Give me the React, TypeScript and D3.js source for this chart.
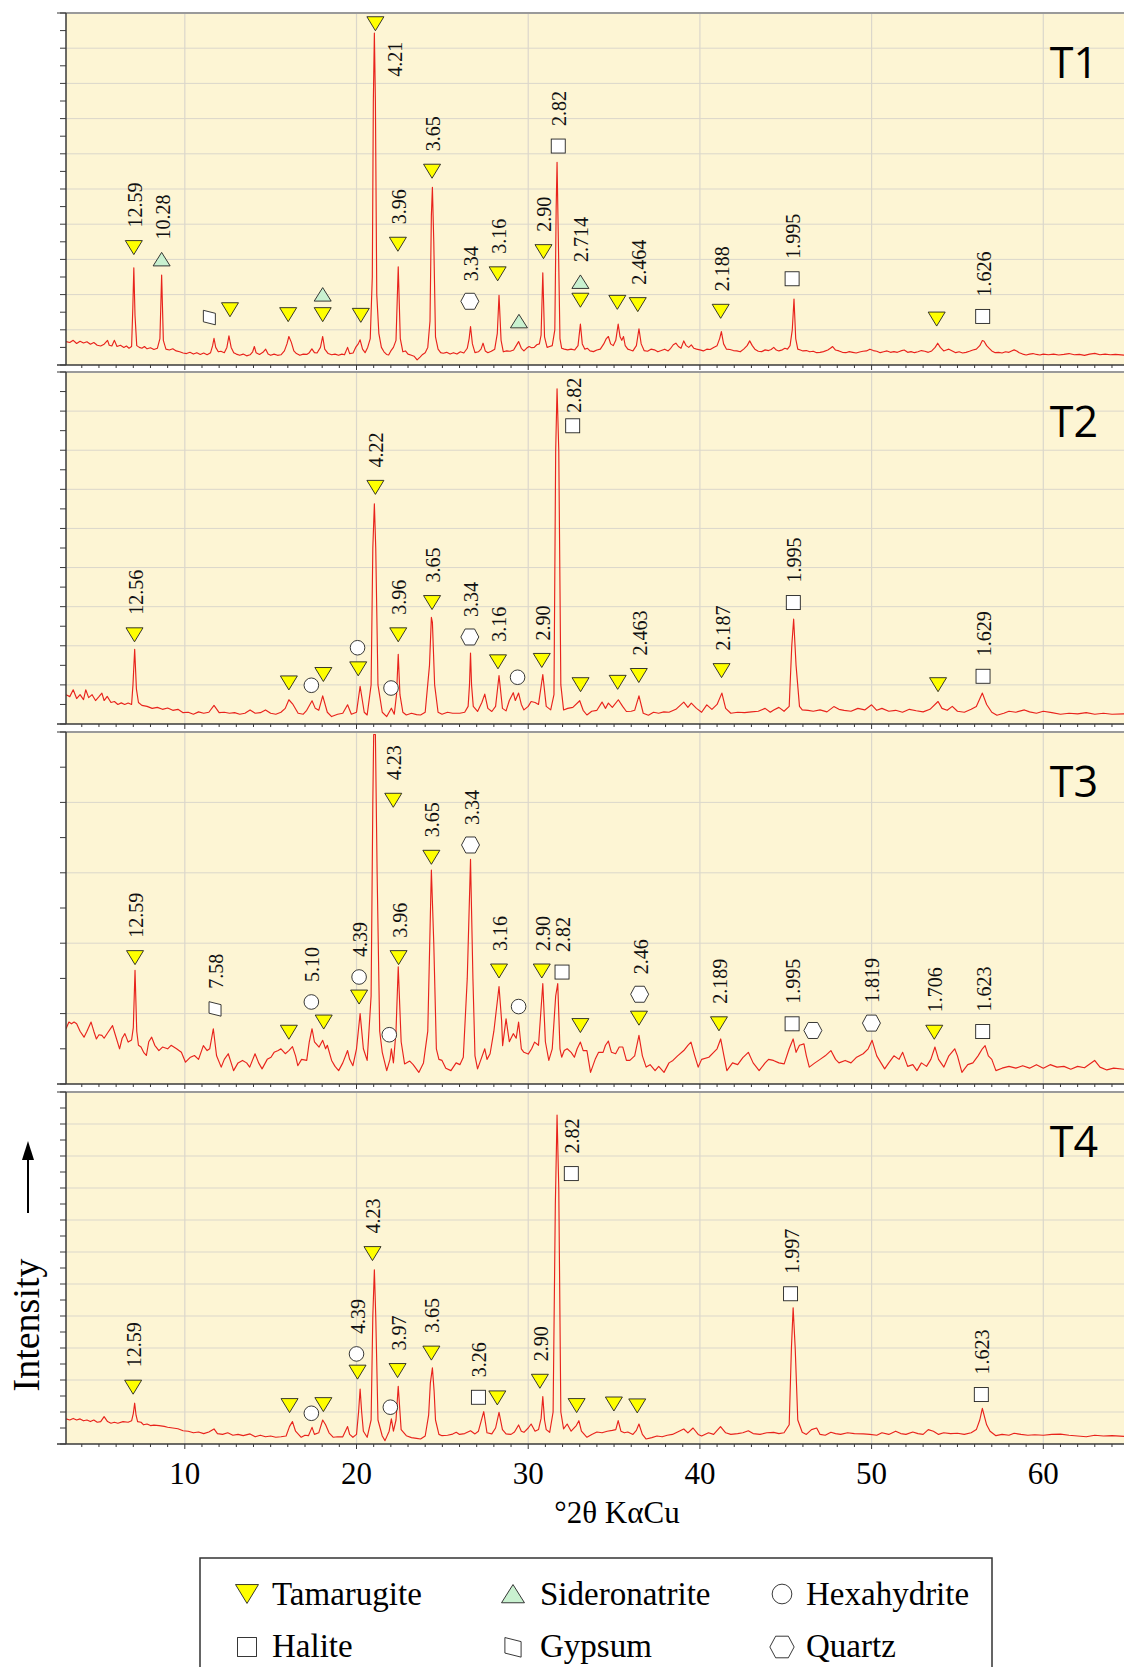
import React from 'react';
import * as d3 from 'd3';

type Pt = [number, number];
type Ann = [number, number, string, string, string?];

// ---------- Data (2θ in degrees, intensity in counts) ----------
const T1_TRACE: Pt[] = [[3.08,133],[3.3,128],[3.5,140],[3.7,122],[3.9,135],[4.1,125],[4.3,132],[4.5,118],[4.7,128],[4.9,112],[5.1,108],[5.3,118],[5.5,140],[5.6,112],[5.75,108],[5.9,140],[6.05,105],[6.25,112],[6.45,100],[6.6,108],[6.75,95],[6.9,105],[6.97,320],[7.03,552],[7.1,280],[7.2,110],[7.35,100],[7.5,95],[7.65,105],[7.8,92],[8.0,98],[8.2,88],[8.4,95],[8.55,150],[8.65,511],[8.75,140],[8.9,90],[9.1,85],[9.3,92],[9.5,80],[9.7,75],[9.9,68],[10.1,65],[10.3,72],[10.5,62],[10.7,70],[10.9,60],[11.1,68],[11.3,58],[11.5,70],[11.62,110],[11.7,152],[11.8,100],[11.95,75],[12.1,78],[12.3,70],[12.45,100],[12.57,166],[12.7,100],[12.85,70],[13.0,62],[13.2,55],[13.4,62],[13.6,52],[13.8,58],[13.95,75],[14.05,105],[14.15,70],[14.35,60],[14.55,72],[14.71,90],[14.85,62],[15.0,55],[15.2,62],[15.4,55],[15.6,58],[15.8,80],[15.95,120],[16.06,162],[16.2,130],[16.35,80],[16.5,65],[16.7,55],[16.9,62],[17.1,60],[17.25,70],[17.4,92],[17.55,70],[17.7,68],[17.9,100],[18.03,162],[18.15,90],[18.35,65],[18.55,58],[18.75,62],[18.95,55],[19.15,62],[19.3,58],[19.48,100],[19.6,65],[19.8,68],[19.95,100],[20.1,120],[20.21,143],[20.35,90],[20.5,70],[20.65,100],[20.8,150],[20.92,500],[20.98,1500],[21.04,1886],[21.1,1500],[21.18,400],[21.3,180],[21.45,100],[21.6,75],[21.75,60],[21.87,57],[22.0,80],[22.15,100],[22.3,140],[22.43,558],[22.55,150],[22.7,75],[22.85,80],[23.0,62],[23.2,55],[23.35,50],[23.53,29],[23.7,45],[23.85,60],[24.0,70],[24.15,100],[24.28,250],[24.36,850],[24.42,1010],[24.5,700],[24.6,160],[24.75,90],[24.9,70],[25.05,67],[25.25,72],[25.45,62],[25.65,70],[25.85,62],[26.05,75],[26.25,68],[26.45,95],[26.56,150],[26.64,219],[26.75,120],[26.9,70],[27.1,75],[27.25,90],[27.37,124],[27.5,80],[27.65,70],[27.85,78],[28.05,90],[28.2,180],[28.3,396],[28.42,140],[28.55,75],[28.75,80],[28.95,78],[29.15,85],[29.3,110],[29.44,133],[29.6,95],[29.75,80],[29.9,95],[30.05,105],[30.2,98],[30.35,100],[30.5,115],[30.65,120],[30.75,170],[30.85,524],[30.95,160],[31.1,100],[31.25,105],[31.4,110],[31.55,200],[31.63,900],[31.68,1152],[31.74,800],[31.85,150],[31.95,95],[32.1,90],[32.3,86],[32.5,90],[32.7,85],[32.9,110],[33.04,232],[33.15,120],[33.3,90],[33.45,95],[33.6,80],[33.8,76],[34.0,85],[34.2,90],[34.4,120],[34.55,150],[34.67,162],[34.8,120],[34.95,110],[35.1,140],[35.24,232],[35.35,160],[35.45,140],[35.55,162],[35.65,110],[35.8,90],[35.95,85],[36.1,80],[36.3,110],[36.45,206],[36.58,120],[36.75,82],[36.95,78],[37.15,90],[37.35,86],[37.55,75],[37.75,82],[37.95,90],[38.15,80],[38.3,95],[38.45,115],[38.6,124],[38.75,105],[38.9,95],[39.06,137],[39.2,110],[39.35,100],[39.5,114],[39.65,95],[39.8,90],[40.0,86],[40.2,80],[40.4,90],[40.6,88],[40.8,100],[41.0,110],[41.15,150],[41.25,190],[41.38,120],[41.55,90],[41.75,88],[41.95,82],[42.15,80],[42.35,75],[42.55,90],[42.75,110],[42.9,137],[43.05,110],[43.2,90],[43.4,78],[43.6,76],[43.8,86],[44.0,82],[44.15,88],[44.3,100],[44.45,85],[44.6,80],[44.8,86],[44.95,95],[45.1,90],[45.25,110],[45.38,200],[45.48,375],[45.58,150],[45.7,90],[45.85,85],[46.0,80],[46.2,82],[46.4,75],[46.6,78],[46.8,70],[47.0,72],[47.2,76],[47.45,85],[47.6,95],[47.73,105],[47.9,85],[48.1,80],[48.3,72],[48.5,70],[48.7,76],[48.9,72],[49.1,68],[49.3,74],[49.5,78],[49.7,80],[49.9,90],[50.1,82],[50.3,78],[50.5,70],[50.7,75],[50.9,80],[51.1,72],[51.3,76],[51.5,72],[51.7,80],[51.9,85],[52.1,72],[52.3,76],[52.5,70],[52.7,75],[52.9,82],[53.1,78],[53.3,72],[53.5,80],[53.7,100],[53.85,124],[54.0,100],[54.2,80],[54.35,85],[54.5,90],[54.7,80],[54.9,70],[55.1,75],[55.3,68],[55.5,72],[55.7,78],[55.9,85],[56.1,90],[56.3,110],[56.45,139],[56.55,135],[56.7,110],[56.85,95],[57.0,80],[57.2,70],[57.4,72],[57.6,68],[57.8,75],[58.0,72],[58.15,80],[58.3,86],[58.45,80],[58.6,70],[58.8,62],[59.0,57],[59.2,62],[59.4,65],[59.6,60],[59.8,57],[60.0,62],[60.3,58],[60.6,62],[60.9,57],[61.2,60],[61.5,65],[61.8,58],[62.1,60],[62.4,55],[62.7,62],[63.0,66],[63.3,58],[63.6,62],[63.9,58],[64.2,60],[64.7,56]];

const T2_TRACE: Pt[] = [[3.08,150],[3.3,140],[3.5,175],[3.7,130],[3.9,150],[4.1,125],[4.23,175],[4.4,135],[4.6,150],[4.8,120],[5.0,140],[5.17,158],[5.3,120],[5.48,141],[5.7,110],[5.9,115],[6.1,100],[6.3,108],[6.5,100],[6.7,107],[6.9,100],[6.98,200],[7.08,382],[7.18,180],[7.3,110],[7.5,95],[7.8,90],[8.1,80],[8.4,85],[8.7,75],[9.0,82],[9.3,70],[9.6,75],[9.9,58],[10.2,60],[10.5,50],[10.8,62],[11.1,55],[11.4,60],[11.7,95],[12.0,58],[12.3,60],[12.6,55],[12.9,58],[13.2,50],[13.5,55],[13.8,72],[14.1,55],[14.4,58],[14.7,72],[15.0,55],[15.3,50],[15.6,60],[15.85,80],[16.06,124],[16.3,100],[16.6,55],[16.9,50],[17.1,70],[17.41,119],[17.6,80],[17.8,70],[18.03,144],[18.3,60],[18.55,38],[18.9,50],[19.2,55],[19.48,98],[19.7,50],[20.0,60],[20.21,193],[20.45,60],[20.62,46],[20.85,200],[20.95,900],[21.04,1126],[21.12,900],[21.25,200],[21.5,60],[21.76,38],[22.03,81],[22.2,50],[22.33,150],[22.43,356],[22.53,150],[22.7,60],[22.9,46],[23.2,55],[23.5,48],[23.73,46],[24.0,60],[24.25,300],[24.36,545],[24.42,520],[24.55,200],[24.75,60],[24.98,50],[25.3,60],[25.6,55],[26.02,55],[26.3,60],[26.5,90],[26.58,200],[26.64,363],[26.7,200],[26.8,90],[27.05,64],[27.3,110],[27.47,153],[27.65,80],[27.88,64],[28.1,90],[28.3,248],[28.5,80],[28.71,67],[28.9,120],[29.13,160],[29.25,120],[29.44,158],[29.6,100],[29.75,72],[30.0,90],[30.17,115],[30.4,110],[30.6,100],[30.85,253],[31.05,90],[31.31,72],[31.5,150],[31.6,1400],[31.68,1714],[31.78,1400],[31.9,200],[32.06,72],[32.3,80],[32.6,85],[33.0,119],[33.2,70],[33.42,46],[33.7,65],[34.0,70],[34.3,112],[34.5,80],[34.67,107],[34.9,85],[35.25,124],[35.5,90],[35.72,64],[36.0,65],[36.2,70],[36.45,144],[36.7,55],[37.0,45],[37.3,60],[37.6,55],[37.9,62],[38.2,60],[38.6,75],[39.06,112],[39.3,85],[39.5,107],[39.8,80],[40.1,60],[40.4,98],[40.7,75],[41.0,100],[41.28,158],[41.5,80],[41.8,55],[42.2,60],[42.6,58],[43.0,62],[43.4,65],[43.8,80],[44.1,60],[44.3,72],[44.6,85],[44.9,65],[45.2,90],[45.35,400],[45.46,536],[45.6,300],[45.8,90],[45.96,72],[46.3,70],[46.6,65],[47.0,72],[47.4,62],[47.8,89],[48.1,75],[48.4,70],[48.8,65],[49.2,80],[49.6,72],[50.0,98],[50.3,70],[50.6,80],[51.0,65],[51.4,70],[51.8,60],[52.2,75],[52.6,68],[53.0,62],[53.4,75],[53.87,115],[54.1,80],[54.4,70],[54.7,90],[55.0,65],[55.4,60],[55.8,75],[56.1,90],[56.45,158],[56.7,100],[57.0,60],[57.3,45],[57.7,55],[58.0,65],[58.4,60],[58.9,72],[59.2,62],[59.6,55],[60.0,65],[60.5,58],[61.0,50],[61.5,55],[62.0,52],[62.5,58],[63.0,50],[63.5,55],[64.0,50],[64.7,52]];

const T3_TRACE: Pt[] = [[3.08,157],[3.25,176],[3.4,171],[3.55,176],[3.7,171],[3.9,150],[4.13,133],[4.3,150],[4.54,176],[4.7,150],[4.85,128],[5.0,140],[5.17,138],[5.3,130],[5.5,145],[5.79,166],[5.95,140],[6.2,100],[6.35,130],[6.51,143],[6.7,119],[6.9,125],[7.0,160],[7.1,323],[7.2,150],[7.3,110],[7.45,105],[7.6,90],[7.76,81],[7.9,120],[8.07,133],[8.25,110],[8.49,95],[8.7,105],[9.0,100],[9.2,110],[9.52,100],[9.8,90],[10.04,62],[10.3,75],[10.56,81],[10.8,70],[11.08,109],[11.3,95],[11.45,100],[11.66,157],[11.85,80],[12.12,48],[12.3,70],[12.53,86],[12.7,60],[12.84,38],[13.1,60],[13.36,67],[13.6,60],[13.78,48],[14.09,86],[14.3,60],[14.5,43],[14.8,70],[15.02,76],[15.2,90],[15.44,95],[15.6,100],[15.85,86],[16.06,95],[16.27,106],[16.45,80],[16.58,52],[16.8,70],[17.1,67],[17.25,120],[17.41,157],[17.55,120],[17.82,105],[18.03,124],[18.2,100],[18.3,110],[18.55,67],[18.75,50],[18.96,38],[19.2,60],[19.48,95],[19.6,70],[19.79,52],[20.0,100],[20.21,200],[20.4,100],[20.62,67],[20.85,250],[20.95,800],[21.0,993],[21.1,993],[21.2,600],[21.35,150],[21.5,90],[21.76,38],[21.95,70],[22.03,100],[22.15,60],[22.3,150],[22.43,333],[22.6,120],[22.8,57],[23.1,65],[23.3,55],[23.63,33],[23.9,60],[24.15,150],[24.36,608],[24.5,400],[24.65,100],[24.8,70],[24.98,67],[25.2,45],[25.5,38],[25.8,60],[26.02,55],[26.22,76],[26.45,300],[26.64,638],[26.78,300],[26.9,80],[27.05,43],[27.25,70],[27.47,100],[27.6,70],[27.78,86],[28.0,150],[28.3,277],[28.45,180],[28.51,109],[28.71,185],[28.9,120],[29.13,143],[29.3,130],[29.44,176],[29.6,100],[29.75,90],[30.0,85],[30.2,100],[30.37,119],[30.6,110],[30.85,285],[31.0,120],[31.2,67],[31.4,100],[31.6,250],[31.72,285],[31.85,100],[31.95,76],[32.1,95],[32.27,100],[32.5,90],[32.69,76],[32.85,100],[33.04,119],[33.2,95],[33.42,95],[33.63,33],[33.9,70],[34.1,90],[34.36,90],[34.5,110],[34.67,122],[34.85,90],[35.09,86],[35.3,105],[35.51,105],[35.72,67],[35.92,67],[36.2,80],[36.45,138],[36.65,80],[36.87,48],[37.1,55],[37.39,38],[37.6,50],[37.91,33],[38.2,60],[38.43,67],[38.7,80],[39.06,95],[39.3,110],[39.48,119],[39.7,80],[39.9,48],[40.1,70],[40.52,76],[40.8,90],[41.0,100],[41.21,128],[41.4,80],[41.57,38],[41.9,60],[42.2,55],[42.5,75],[42.82,90],[43.1,60],[43.45,38],[43.8,60],[44.0,70],[44.28,67],[44.6,60],[44.91,57],[45.2,100],[45.43,128],[45.6,90],[45.8,110],[46.06,114],[46.2,80],[46.37,48],[46.7,60],[47.0,70],[47.3,80],[47.63,95],[47.9,70],[48.1,60],[48.46,67],[48.8,60],[49.1,75],[49.51,86],[49.8,100],[50.03,124],[50.3,80],[50.76,43],[51.0,60],[51.3,80],[51.6,70],[51.81,90],[52.1,50],[52.4,55],[52.64,38],[52.9,60],[53.2,50],[53.45,70],[53.69,105],[53.9,70],[54.21,48],[54.5,80],[54.84,100],[55.0,80],[55.26,33],[55.6,55],[55.9,60],[56.2,80],[56.45,100],[56.61,109],[56.8,80],[57.0,70],[57.24,38],[57.6,45],[58.0,50],[58.4,45],[58.8,52],[59.2,45],[59.6,55],[60.0,45],[60.4,55],[60.8,48],[61.2,50],[61.6,42],[62.0,50],[62.4,46],[62.99,67],[63.3,48],[63.7,40],[64.1,45],[64.7,42]];

const T4_TRACE: Pt[] = [[3.08,157],[3.3,150],[3.5,160],[3.7,150],[3.9,157],[4.1,145],[4.3,150],[4.5,140],[4.7,150],[4.9,136],[5.1,140],[5.3,171],[5.5,140],[5.7,130],[5.9,136],[6.1,130],[6.4,140],[6.7,136],[6.9,145],[7.0,190],[7.08,255],[7.16,180],[7.25,140],[7.45,136],[7.6,120],[7.8,125],[8.0,115],[8.2,118],[8.5,115],[8.8,110],[9.0,105],[9.3,100],[9.6,95],[9.9,83],[10.2,80],[10.5,70],[10.8,75],[11.1,65],[11.4,75],[11.7,94],[11.9,65],[12.2,60],[12.5,70],[12.8,55],[13.1,60],[13.4,52],[13.8,63],[14.1,45],[14.4,55],[14.7,45],[15.0,50],[15.3,42],[15.6,45],[15.9,50],[16.1,110],[16.27,140],[16.45,80],[16.78,42],[17.0,55],[17.2,52],[17.41,104],[17.55,60],[17.8,70],[18.03,150],[18.2,120],[18.4,70],[18.65,42],[18.9,45],[19.2,45],[19.48,109],[19.6,60],[19.79,42],[20.0,60],[20.12,200],[20.21,344],[20.3,200],[20.4,80],[20.62,42],[20.85,150],[20.95,800],[21.04,1089],[21.12,800],[21.25,150],[21.5,50],[21.66,21],[21.9,80],[22.03,157],[22.15,80],[22.3,150],[22.43,361],[22.6,90],[22.9,52],[23.2,40],[23.5,35],[23.73,31],[24.0,50],[24.2,180],[24.3,380],[24.42,476],[24.52,330],[24.6,150],[24.8,60],[24.98,52],[25.3,55],[25.6,62],[25.81,73],[26.0,60],[26.3,65],[26.64,83],[26.9,63],[27.1,80],[27.41,202],[27.6,70],[27.88,63],[28.1,100],[28.3,198],[28.5,90],[28.71,63],[29.0,60],[29.2,75],[29.44,119],[29.6,80],[29.75,73],[30.0,100],[30.17,125],[30.4,80],[30.6,90],[30.75,160],[30.85,296],[30.95,150],[31.05,90],[31.25,73],[31.45,200],[31.58,1500],[31.68,2056],[31.78,1600],[31.9,200],[32.06,94],[32.27,125],[32.5,80],[32.8,115],[32.95,146],[33.1,80],[33.42,42],[33.7,60],[34.0,75],[34.3,70],[34.6,80],[34.9,85],[35.1,90],[35.24,146],[35.4,80],[35.6,70],[35.8,75],[36.1,60],[36.3,85],[36.45,125],[36.65,60],[36.87,31],[37.2,40],[37.5,50],[37.8,45],[38.1,55],[38.4,60],[38.7,75],[39.06,94],[39.3,70],[39.6,100],[39.9,60],[40.1,50],[40.5,70],[40.8,60],[41.2,109],[41.5,70],[41.8,60],[42.2,65],[42.5,70],[42.82,83],[43.1,65],[43.5,60],[43.9,70],[44.3,73],[44.6,65],[44.9,70],[45.2,120],[45.33,600],[45.43,851],[45.55,600],[45.7,150],[45.96,73],[46.2,60],[46.5,90],[46.8,100],[47.0,60],[47.3,55],[47.63,73],[47.9,65],[48.2,60],[48.6,70],[49.0,65],[49.51,63],[49.9,60],[50.3,55],[50.6,70],[51.0,60],[51.4,80],[51.7,65],[52.0,60],[52.4,75],[52.7,65],[53.0,60],[53.3,90],[53.6,80],[53.9,60],[54.2,70],[54.6,65],[55.0,67],[55.4,60],[55.8,70],[56.1,90],[56.3,150],[56.45,223],[56.6,160],[56.7,120],[56.9,80],[57.24,52],[57.6,60],[58.0,55],[58.3,67],[58.7,60],[59.1,55],[59.5,58],[60.0,55],[60.5,60],[61.0,62],[61.5,55],[62.0,50],[62.5,45],[63.0,55],[63.5,50],[64.0,52],[64.7,48]];

// Mineral markers: [2θ, intensity, mineral, d-spacing label, placement]
const T1_MARKS: Ann[] = [[7.03,667,'T','12.59'],[8.65,600,'S','10.28'],[11.43,271,'G',''],[12.63,314,'T',''],[16.02,286,'T',''],[18.03,286,'T',''],[18.03,400,'S',''],[20.25,282,'T',''],[21.1,1939,'T','4.21','right'],[22.41,686,'T','3.96'],[24.40,1101,'T','3.65'],[26.60,362,'Q','3.34'],[28.22,518,'T','3.16'],[29.46,248,'S',''],[30.89,644,'T','2.90'],[31.75,1244,'L','2.82'],[33.04,472,'S','2.714'],[33.04,368,'T',''],[35.19,356,'T',''],[36.38,343,'T','2.464'],[41.21,305,'T','2.188'],[45.37,490,'L','1.995'],[53.79,261,'T',''],[56.47,276,'L','1.626']];
const T2_MARKS: Ann[] = [[7.07,456,'T','12.56'],[16.06,210,'T',''],[17.37,198,'H',''],[18.07,253,'T',''],[20.10,282,'T',''],[20.06,390,'H',''],[21.10,1210,'T','4.22'],[22.01,184,'H',''],[22.43,456,'T','3.96'],[24.40,621,'T','3.65'],[26.60,445,'Q','3.34'],[28.24,318,'T','3.16'],[29.38,239,'H',''],[30.79,325,'T','2.90'],[32.59,1525,'L','2.82','tight'],[33.05,201,'T',''],[35.21,213,'T',''],[36.44,248,'T','2.463'],[41.26,273,'T','2.187'],[45.44,621,'L','1.995'],[53.87,201,'T',''],[56.49,244,'L','1.629']];
const T3_MARKS: Ann[] = [[7.10,359,'T','12.59'],[11.76,214,'G','7.58'],[16.06,147,'T',''],[17.37,233,'H','5.10'],[18.09,176,'T',''],[20.15,247,'T',''],[20.15,304,'H','4.39'],[21.91,140,'H',''],[22.14,806,'T','4.23'],[22.45,359,'T','3.96'],[24.36,644,'T','3.65'],[26.64,679,'Q','3.34'],[28.30,321,'T','3.16'],[29.44,220,'H',''],[30.79,321,'T','2.90'],[31.97,318,'L','2.82'],[33.04,166,'T',''],[36.45,187,'T',''],[36.49,255,'Q','2.46'],[41.11,171,'T','2.189'],[45.37,171,'L','1.995'],[46.58,152,'Q',''],[49.99,173,'Q','1.819'],[53.65,147,'T','1.706'],[56.47,149,'L','1.623']];
const T4_MARKS: Ann[] = [[6.99,355,'T','12.59'],[16.10,240,'T',''],[17.37,192,'H',''],[18.07,246,'T',''],[20.06,449,'T',''],[20.0,563,'H','4.39'],[20.93,1190,'T','4.23'],[21.97,230,'H',''],[22.39,459,'T','3.97'],[24.36,568,'T','3.65'],[27.10,292,'L','3.26'],[28.20,288,'T',''],[30.68,392,'T','2.90'],[32.51,1690,'L','2.82'],[32.82,240,'T',''],[34.99,250,'T',''],[36.35,238,'T',''],[45.28,939,'L','1.997'],[56.39,309,'L','1.623']];

const PANEL_NAMES = ['T1', 'T2', 'T3', 'T4'];
const PANEL_MAX = [2000, 1800, 1000, 2200];
const X_TICKS = [10, 20, 30, 40, 50, 60];
const LEGEND_NAMES = ['Tamarugite', 'Sideronatrite', 'Hexahydrite', 'Halite', 'Gypsum', 'Quartz'];
const LEGEND_KINDS = ['T', 'S', 'H', 'L', 'G', 'Q'];

const TRACES = [T1_TRACE, T2_TRACE, T3_TRACE, T4_TRACE];
const MARKS = [T1_MARKS, T2_MARKS, T3_MARKS, T4_MARKS];

// ---------- Layout ----------
const W = 1124, H = 1667;
const LEFT = 66, RIGHT = 1124;
const PANEL_TOP = [13, 372, 732, 1092];
const PANEL_H = 352;
const SERIF = "'Liberation Serif', 'Times New Roman', serif";
const BG = '#fdf5d4';
const GRID = '#dbd7cb';
const AXIS = '#3a3a3a';

function Marker({ kind, cx, cy, s = 1 }: { kind: string; cx: number; cy: number; s?: number }) {
  const stroke = '#222';
  const sw = 0.9;
  const p = (pts: number[][]) => pts.map(([a, b]) => `${cx + a * s},${cy + b * s}`).join(' ');
  if (kind === 'T') return <polygon points={p([[-8.5, -7], [8.5, -7], [0, 7]])} fill="#ffff00" stroke={stroke} strokeWidth={sw} />;
  if (kind === 'S') return <polygon points={p([[-8.5, 6.5], [8.5, 6.5], [0, -7]])} fill="#c9f1d0" stroke={stroke} strokeWidth={sw} />;
  if (kind === 'H') return <circle cx={cx} cy={cy} r={7.3 * s} fill="#fff" stroke={stroke} strokeWidth={sw} />;
  if (kind === 'L') return <rect x={cx - 7 * s} y={cy - 7 * s} width={14 * s} height={14 * s} fill="#fff" stroke={stroke} strokeWidth={sw} />;
  if (kind === 'Q') return <polygon points={p([[-9, 0], [-4.7, -8], [4.7, -8], [9, 0], [4.7, 8], [-4.7, 8]])} fill="#fff" stroke={stroke} strokeWidth={sw} />;
  return <polygon points={p([[-6, -7], [6, -4], [6, 7.5], [-6, 4.5]])} fill="#fff" stroke={stroke} strokeWidth={sw} />;
}

export default function App() {
  const x = d3.scaleLinear().domain([3.08, 64.7]).range([LEFT, RIGHT]);
  const minorTicks = d3.range(4, 65, 1);

  return (
    <svg width={W} height={H} viewBox={`0 0 ${W} ${H}`} style={{ position: 'absolute', left: 0, top: 0, background: '#fff' }}>
      <defs>
        {PANEL_TOP.map((t, i) => (
          <clipPath id={`clip${i}`} key={i}>
            <rect x={LEFT} y={t} width={RIGHT - LEFT} height={PANEL_H} />
          </clipPath>
        ))}
      </defs>
      {PANEL_TOP.map((top, i) => {
        const bottom = top + PANEL_H;
        const y = d3.scaleLinear().domain([0, PANEL_MAX[i]]).range([bottom, top]);
        const yTicks = d3.range(0, PANEL_MAX[i] + 1, 100);
        const yGrid = d3.range(200, PANEL_MAX[i], 200);
        const line = d3.line<Pt>().x(d => x(d[0])).y(d => y(d[1]));
        return (
          <g key={i}>
            <rect x={LEFT} y={top} width={RIGHT - LEFT} height={PANEL_H} fill={BG} />
            {yGrid.map(v => (
              <line key={'g' + v} x1={LEFT} x2={RIGHT} y1={y(v)} y2={y(v)} stroke={GRID} strokeWidth={1} />
            ))}
            {X_TICKS.map(v => (
              <line key={'v' + v} x1={x(v)} x2={x(v)} y1={top} y2={bottom} stroke={GRID} strokeWidth={1.2} />
            ))}
            <path d={line(TRACES[i]) || ''} fill="none" stroke="#e8231c" strokeWidth={1.15} strokeLinejoin="round" clipPath={`url(#clip${i})`} />
            {/* frame */}
            <line x1={57} x2={RIGHT} y1={top} y2={top} stroke="#9a9a9a" strokeWidth={2} />
            <line x1={57} x2={RIGHT} y1={bottom} y2={bottom} stroke={AXIS} strokeWidth={1.5} />
            <line x1={LEFT} x2={LEFT} y1={top} y2={bottom} stroke={AXIS} strokeWidth={1.5} />
            {yTicks.map(v => (
              <line key={'t' + v} x1={LEFT - 6} x2={LEFT} y1={y(v)} y2={y(v)} stroke={AXIS} strokeWidth={1} />
            ))}
            {minorTicks.map(v => (
              <line key={'m' + v} x1={x(v)} x2={x(v)} y1={bottom} y2={bottom + (v % 10 === 0 ? 5 : 3)} stroke={AXIS} strokeWidth={1} />
            ))}
            {/* markers */}
            {MARKS[i].map((a, j) => (
              <Marker key={'k' + j} kind={a[2]} cx={x(a[0])} cy={y(a[1])} />
            ))}
            {MARKS[i].filter(a => a[3]).map((a, j) => {
              const mx = x(a[0]);
              const my = y(a[1]);
              if (a[4] === 'right') {
                return (
                  <text key={'l' + j} transform={`translate(${mx + 20},${my + 18}) rotate(-90)`} textAnchor="end" dominantBaseline="central" fontFamily={SERIF} fontSize={20} fill="#111">{a[3]}</text>
                );
              }
              const gap = a[4] === 'tight' ? 13 : 20;
              return (
                <text key={'l' + j} transform={`translate(${mx + 1},${my - gap}) rotate(-90)`} textAnchor="start" dominantBaseline="central" fontFamily={SERIF} fontSize={20} fill="#111">{a[3]}</text>
              );
            })}
            <text x={1098} y={top + 65} textAnchor="end" fontFamily="'Open Sans', 'DejaVu Sans', sans-serif" fontSize={43} fill="#000">{PANEL_NAMES[i]}</text>
          </g>
        );
      })}
      {/* x tick labels */}
      {X_TICKS.map(v => (
        <text key={'xl' + v} x={x(v)} y={1484} textAnchor="middle" fontFamily={SERIF} fontSize={31} fill="#000">{v}</text>
      ))}
      <text x={617} y={1523} textAnchor="middle" fontFamily={SERIF} fontSize={31} fill="#000">°2θ KαCu</text>
      {/* y title with arrow */}
      <text transform={`translate(26,1325) rotate(-90)`} textAnchor="middle" dominantBaseline="central" fontFamily={SERIF} fontSize={38} fill="#000">Intensity</text>
      <line x1={28} x2={28} y1={1213} y2={1158} stroke="#000" strokeWidth={2} />
      <polygon points="28,1141 22,1160 34,1160" fill="#000" />
      {/* legend */}
      <rect x={200} y={1558} width={792} height={140} fill="#fff" stroke="#333" strokeWidth={1.5} />
      {LEGEND_NAMES.map((name, k) => {
        const col = k % 3;
        const row = Math.floor(k / 3);
        const mxs = [247, 513, 782];
        const txs = [272, 540, 806];
        const cy = row === 0 ? 1594 : 1647;
        const by = row === 0 ? 1605 : 1657;
        return (
          <g key={name}>
            <Marker kind={LEGEND_KINDS[k]} cx={mxs[col]} cy={cy} s={1.35} />
            <text x={txs[col]} y={by} fontFamily={SERIF} fontSize={33} fill="#000">{name}</text>
          </g>
        );
      })}
    </svg>
  );
}
